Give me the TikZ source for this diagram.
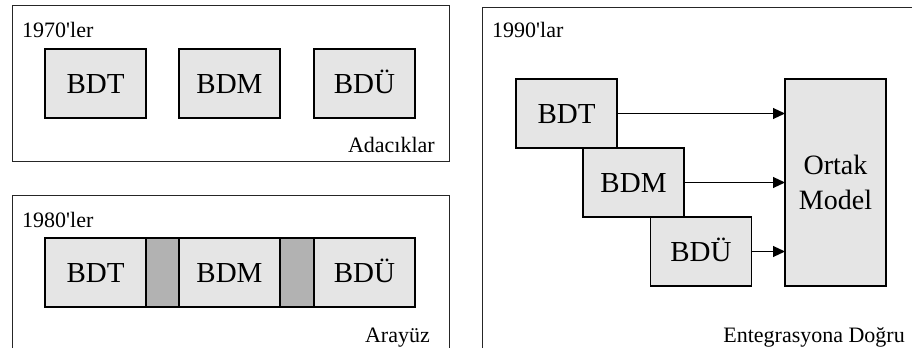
\documentclass[tikz,border=0pt]{standalone}
\usepackage{fontspec}
\setmainfont{Liberation Serif}[Ligatures=TeXOff]
\usetikzlibrary{arrows.meta}
\definecolor{boxfill}{gray}{0.90}
\definecolor{gapfill}{gray}{0.70}
\tikzset{
  frame/.style={draw=black!85, line width=0.9pt},
  shaded/.style={draw=black, line width=1.2pt, fill=boxfill, rectangle,
    inner sep=0pt, outer sep=0pt},
  unit/.style={shaded, minimum width=101pt, minimum height=69pt,
    text height=20pt, text depth=0pt,
    font=\fontsize{29}{32}\selectfont},
  gap/.style={draw=black, line width=1.2pt, fill=gapfill, rectangle,
    minimum height=69pt, inner sep=0pt, outer sep=0pt},
  tag/.style={font=\fontsize{22}{24}\selectfont, inner sep=0pt},
  arr/.style={line width=1pt, -{Triangle[length=12pt,width=11pt]}}
}
\begin{document}
\begin{tikzpicture}[x=1pt,y=-1pt]
\useasboundingbox (0,0) rectangle (912,348);

% 1970s: separate islands
\draw[frame] (12,5) rectangle (449,161);
\node[tag, anchor=base west] (t70) at (22,37) {1970'ler};
\node[unit] (a1) at (95.5,83.5) {BDT};
\node[unit] (a2) at (229.5,83.5) {BDM};
\node[unit] (a3) at (364.5,83.5) {BDÜ};
\node[tag, anchor=base east] (isl) at (435,152) {Adacıklar};

% 1980s: joined through interfaces
\draw[frame] (12,348) -- (12,195) -- (449,195) -- (449,348);
\node[tag, anchor=base west] (t80) at (22,227) {1980'ler};
\node[unit] (b1) at (95.5,272.5) {BDT};
\node[gap, minimum width=33pt] (g1) at (162.5,272.5) {};
\node[unit] (b2) at (229.5,272.5) {BDM};
\node[gap, minimum width=34pt] (g2) at (297,272.5) {};
\node[unit] (b3) at (364.5,272.5) {BDÜ};
\node[tag, anchor=base east] (ifc) at (430,342) {Arayüz};

% 1990s: towards a common model
\draw[frame] (482,348) -- (482,7) -- (913,7);
\node[tag, anchor=base west] (t90) at (492,37) {1990'lar};
\node[unit] (c1) at (566.5,113.5) {BDT};
\node[unit] (c2) at (633.5,182.5) {BDM};
\node[unit] (c3) at (701,251.5) {BDÜ};
\node[shaded, minimum width=101pt, minimum height=207pt, align=center,
      font=\fontsize{28}{35}\selectfont] (om) at (835.5,182.5) {Ortak\\Model};
\draw[arr] (c1.east) -- (c1.east -| om.west);
\draw[arr] (c2.east) -- (c2.east -| om.west);
\draw[arr] (c3.east) -- (c3.east -| om.west);
\node[tag, anchor=base east] (intg) at (905,342) {Entegrasyona Doğru};
\end{tikzpicture}
\end{document}
